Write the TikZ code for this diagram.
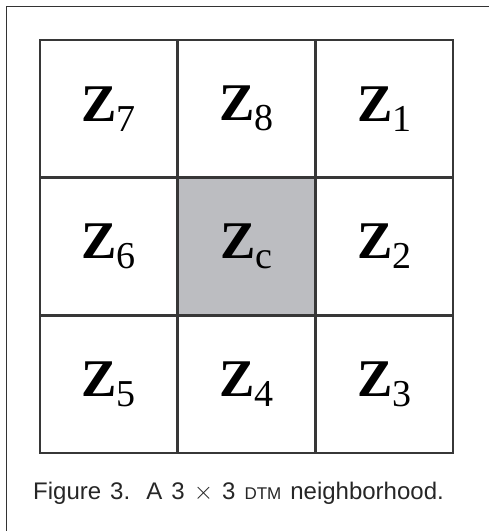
\documentclass[tikz,border=0pt]{standalone}
\usepackage{fontspec}
\usepackage{tikz}
\usetikzlibrary{positioning}
\setmainfont{Liberation Sans}
\newfontfamily\cellfont{Liberation Serif}
\definecolor{gridline}{RGB}{55,55,55}
\definecolor{centre}{RGB}{188,189,193}
\newcommand{\zlab}[1]{\cellfont\fontsize{53}{53}\selectfont\textbf{Z}%
  \raisebox{-10pt}{\cellfont\fontsize{38}{38}\selectfont\mdseries #1}}

\begin{document}
\begin{tikzpicture}[x=1pt,y=1pt,
  cell/.style={draw=gridline,line width=2.4pt,minimum size=137.7pt,inner sep=0pt},
  frame/.style={black!80,line width=1pt}]
\useasboundingbox (0,0) rectangle (489,531);
% outer frame (top and left only)
\coordinate (fl) at (6,0);
\coordinate (ft) at (6,524);
\coordinate (fr) at (489,524);
\draw[frame] (fl) -- (ft) -- (fr);
% 3 x 3 neighbourhood
\node[cell,fill=centre] (zc) at (246.5,284.5) {\zlab{c}};
\foreach \x/\y/\n in {108.8/422.2/7,246.5/422.2/8,384.2/422.2/1,
                      108.8/284.5/6,384.2/284.5/2,
                      108.8/146.8/5,246.5/146.8/4,384.2/146.8/3}{
  \node[cell] (z\n) at (\x,\y) {\zlab{\n}};
}
% caption
\node[anchor=base west,inner sep=0pt,text=black!85] (cap) at (33,31)
  {\fontsize{24}{24}\selectfont\spaceskip=9pt Figure 3.\hspace{5pt} A 3 $\times$ 3 {\fontsize{17}{17}\selectfont DTM} neighborhood.};
\end{tikzpicture}
\end{document}
